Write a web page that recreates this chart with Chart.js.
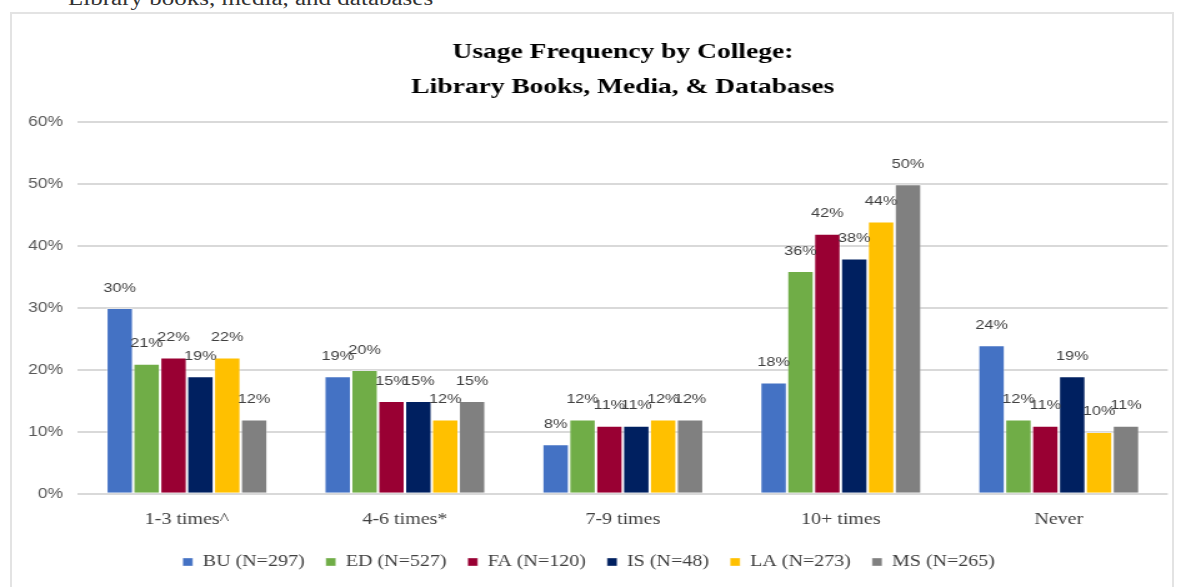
<!DOCTYPE html>
<html>
<head>
<meta charset="utf-8">
<script src="https://cdn.jsdelivr.net/npm/chart.js@4.4.1/dist/chart.umd.min.js"></script>
<style>
  body { margin: 0; background: #fff; overflow: hidden; }
  #top-text { position: absolute; left: 68px; top: -13px; font: 20px "Liberation Serif", serif; color: #333; white-space: nowrap; transform: scaleX(1.25); transform-origin: left top; }
  #frame { position: absolute; left: 10px; top: 12px; width: 1160px; height: 600px; border: 2px solid #e3e3e3; }
  /* o original está esticado na horizontal: desenha a 945px e estica para 1181px */
  #wrap { position: absolute; left: 0; top: 0; width: 945px; height: 587px; transform: scaleX(1.2497); transform-origin: left top; }
</style>
</head>
<body>
<div id="top-text">Library books, media, and databases</div>
<div id="frame"></div>
<div id="wrap"><canvas id="usageChart" width="945" height="587"></canvas></div>
<script>
// categorias e valores (%)
const categories = ['1-3 times^', '4-6 times*', '7-9 times', '10+ times', 'Never'];
const collegeNames = ['BU (N=297)', 'ED (N=527)', 'FA (N=120)', 'IS (N=48)', 'LA (N=273)', 'MS (N=265)'];
const buValues = [30, 19, 8, 18, 24];
const edValues = [21, 20, 12, 36, 12];
const faValues = [22, 15, 11, 42, 11];
const isValues = [19, 15, 11, 38, 19];
const laValues = [22, 12, 12, 44, 10];
const msValues = [12, 15, 12, 50, 11];
const yTicks = [0, 10, 20, 30, 40, 50, 60];

const colors = ['#4472C4', '#70AD47', '#990033', '#002060', '#FFC000', '#808080'];
const seriesValues = [buValues, edValues, faValues, isValues, laValues, msValues];

// rótulos de dados acima das barras
const barLabels = {
  id: 'barLabels',
  afterDatasetsDraw(chart) {
    const ctx = chart.ctx;
    ctx.save();
    ctx.font = '13px "Liberation Sans", sans-serif';
    ctx.fillStyle = '#404040';
    ctx.textAlign = 'center';
    ctx.textBaseline = 'middle';
    chart.data.datasets.forEach((ds, i) => {
      chart.getDatasetMeta(i).data.forEach((bar, j) => {
        ctx.fillText(ds.data[j] + '%', bar.x, bar.y - 20);
      });
    });
    ctx.restore();
  }
};

new Chart(document.getElementById('usageChart').getContext('2d'), {
  type: 'bar',
  data: {
    labels: categories,
    datasets: collegeNames.map((name, i) => ({
      label: name,
      data: seriesValues[i],
      backgroundColor: colors[i],
      borderColor: 'rgba(255,255,255,0.35)',
      borderWidth: 1,
      categoryPercentage: 0.74,
      barPercentage: 1.0
    }))
  },
  options: {
    responsive: false,
    animation: false,
    layout: { padding: { left: 8, right: 10.6, top: 35, bottom: 7 } },
    plugins: {
      title: {
        display: true,
        fullSize: false,
        text: ['Usage Frequency by College:', 'Library Books, Media, & Databases'],
        font: { family: '"Liberation Serif", serif', size: 22, weight: 'bold', lineHeight: 1.6 },
        color: '#000',
        padding: { top: 0, bottom: 17 }
      },
      legend: {
        position: 'bottom',
        labels: {
          boxWidth: 8,
          boxHeight: 8,
          padding: 17,
          color: '#404040',
          font: { family: '"Liberation Serif", serif', size: 16 }
        }
      },
      tooltip: { enabled: false }
    },
    scales: {
      x: {
        grid: { display: false },
        border: { display: false },
        ticks: {
          color: '#404040',
          padding: 8,
          font: { family: '"Liberation Serif", serif', size: 16 }
        }
      },
      y: {
        min: 0,
        max: 60,
        afterBuildTicks: (scale) => { scale.ticks = yTicks.map(v => ({ value: v })); },
        afterFit: (scale) => { scale.width = 54.4; },
        grid: { color: '#d9d9d9', lineWidth: 2, drawTicks: false },
        border: { display: false },
        ticks: {
          padding: 12,
          color: '#595959',
          font: { family: '"Liberation Sans", sans-serif', size: 14 },
          callback: (v) => v + '%'
        }
      }
    }
  },
  plugins: [barLabels]
});
</script>
</body>
</html>
